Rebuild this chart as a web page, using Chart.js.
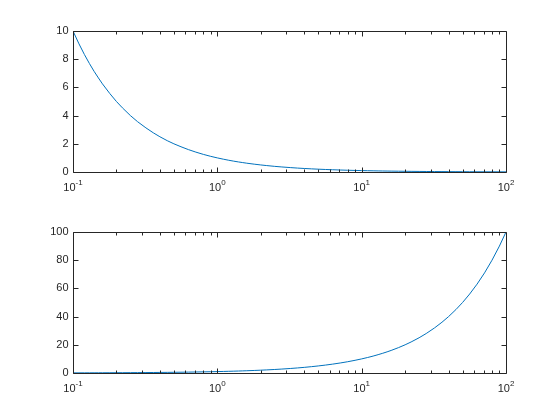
<!DOCTYPE html>
<html>
<head>
<meta charset="utf-8">
<script src="https://cdn.jsdelivr.net/npm/chart.js@4/dist/chart.umd.min.js"></script>
<style>
  html, body { margin: 0; padding: 0; background: #fff; }
  #wrap { position: relative; width: 560px; height: 420px; }
  canvas { position: absolute; left: 0; }
</style>
</head>
<body>
<div id="wrap">
  <canvas id="c1" width="560" height="210" style="top:0px"></canvas>
  <canvas id="c2" width="560" height="210" style="top:210px"></canvas>
</div>
<script>
// x values (log axis)
const xValues = [
  0.1, 0.11, 0.12, 0.13, 0.14, 0.15, 0.16, 0.18, 0.2, 0.22, 0.25, 0.28, 0.32, 0.36, 0.4, 0.45, 0.5, 0.56, 0.63, 0.71, 0.8, 0.9,
  1, 1.1, 1.2, 1.3, 1.4, 1.5, 1.6, 1.8, 2, 2.2, 2.5, 2.8, 3.2, 3.6, 4, 4.5, 5, 5.6, 6.3, 7.1, 8, 9,
  10, 11, 12, 13, 14, 15, 16, 18, 20, 22, 25, 28, 32, 36, 40, 45, 50, 56, 63, 71, 80, 90,
  100];
// top subplot series
const topValues = [
  10, 9.09, 8.33, 7.69, 7.14, 6.67, 6.25, 5.56, 5, 4.55, 4, 3.57, 3.13, 2.78, 2.5, 2.22, 2, 1.79, 1.59, 1.41, 1.25, 1.11,
  1, 0.909, 0.833, 0.769, 0.714, 0.667, 0.625, 0.556, 0.5, 0.455, 0.4, 0.357, 0.313, 0.278, 0.25, 0.222, 0.2, 0.179, 0.159, 0.141, 0.125, 0.111,
  0.1, 0.0909, 0.0833, 0.0769, 0.0714, 0.0667, 0.0625, 0.0556, 0.05, 0.0455, 0.04, 0.0357, 0.0313, 0.0278, 0.025, 0.0222, 0.02, 0.0179, 0.0159, 0.0141, 0.0125, 0.0111,
  0.01];
// bottom subplot series
const bottomValues = [
  0.1, 0.11, 0.12, 0.13, 0.14, 0.15, 0.16, 0.18, 0.2, 0.22, 0.25, 0.28, 0.32, 0.36, 0.4, 0.45, 0.5, 0.56, 0.63, 0.71, 0.8, 0.9,
  1, 1.1, 1.2, 1.3, 1.4, 1.5, 1.6, 1.8, 2, 2.2, 2.5, 2.8, 3.2, 3.6, 4, 4.5, 5, 5.6, 6.3, 7.1, 8, 9,
  10, 11, 12, 13, 14, 15, 16, 18, 20, 22, 25, 28, 32, 36, 40, 45, 50, 56, 63, 71, 80, 90,
  100];
// tick labels
const xTickValues = [0.1, 1, 10, 100];
const xTickExps = ['-1', '0', '1', '2'];
const topYTicks = [0, 2, 4, 6, 8, 10];
const bottomYTicks = [0, 20, 40, 60, 80, 100];

const AX = '#262626';
const LINE = '#0072BD';
const FONT = '"Liberation Sans", Arial, Helvetica, sans-serif';

function axesPlugin(yTicks) {
  return {
    id: 'matlabAxes',
    afterDraw(chart) {
      const ctx = chart.ctx;
      const ca = chart.chartArea;
      const xs = chart.scales.x, ys = chart.scales.y;
      const L = Math.round(ca.left) + 0.5, R = Math.round(ca.right) + 0.5;
      const T = Math.round(ca.top) + 0.5, B = Math.round(ca.bottom) + 0.5;
      ctx.save();
      ctx.strokeStyle = AX;
      ctx.lineWidth = 1;
      ctx.beginPath();
      ctx.rect(L, T, R - L, B - T);
      ctx.stroke();
      // x ticks (major + minor), top and bottom, inward
      ctx.beginPath();
      for (let d = -1; d < 2; d++) {
        for (let m = 1; m <= 9; m++) {
          const v = m * Math.pow(10, d);
          const px = Math.round(xs.getPixelForValue(v)) + 0.5;
          const len = m === 1 ? 5 : 3;
          ctx.moveTo(px, B); ctx.lineTo(px, B - len);
          ctx.moveTo(px, T); ctx.lineTo(px, T + len);
        }
      }
      // y ticks left and right inward
      yTicks.forEach(v => {
        const py = Math.round(ys.getPixelForValue(v)) + 0.5;
        ctx.moveTo(L, py); ctx.lineTo(L + 5, py);
        ctx.moveTo(R, py); ctx.lineTo(R - 5, py);
      });
      ctx.stroke();
      // y labels
      ctx.fillStyle = AX;
      ctx.font = '11px ' + FONT;
      ctx.textAlign = 'right';
      ctx.textBaseline = 'middle';
      yTicks.forEach(v => {
        const py = ys.getPixelForValue(v);
        ctx.fillText(String(v), L - 5, py);
      });
      // x labels with superscript exponents
      ctx.textBaseline = 'alphabetic';
      ctx.textAlign = 'left';
      xTickValues.forEach((v, i) => {
        const px = xs.getPixelForValue(v);
        ctx.font = '11px ' + FONT;
        const wb = ctx.measureText('10').width;
        ctx.font = '8px ' + FONT;
        const we = ctx.measureText(xTickExps[i]).width;
        const x0 = px - (wb + we) / 2;
        ctx.font = '11px ' + FONT;
        ctx.fillText('10', x0, B + 18);
        ctx.font = '8px ' + FONT;
        ctx.fillText(xTickExps[i], x0 + wb, B + 12);
      });
      ctx.restore();
    }
  };
}

function makeChart(id, values, yMax, yTicks, pad) {
  return new Chart(document.getElementById(id), {
    type: 'line',
    data: {
      datasets: [{
        data: xValues.map((x, i) => ({ x: x, y: values[i] })),
        borderColor: LINE,
        borderWidth: 1,
        pointRadius: 0,
        tension: 0,
        fill: false
      }]
    },
    options: {
      responsive: false,
      animation: false,
      events: [],
      layout: { padding: pad },
      plugins: { legend: { display: false }, tooltip: { enabled: false } },
      scales: {
        x: { type: 'logarithmic', min: 0.1, max: 100, display: false },
        y: { type: 'linear', min: 0, max: yMax, display: false }
      }
    },
    plugins: [axesPlugin(yTicks)]
  });
}

makeChart('c1', topValues, 10, topYTicks, { left: 73, right: 54, top: 31, bottom: 38 });
makeChart('c2', bottomValues, 100, bottomYTicks, { left: 73, right: 54, top: 22, bottom: 47 });
</script>
</body>
</html>
